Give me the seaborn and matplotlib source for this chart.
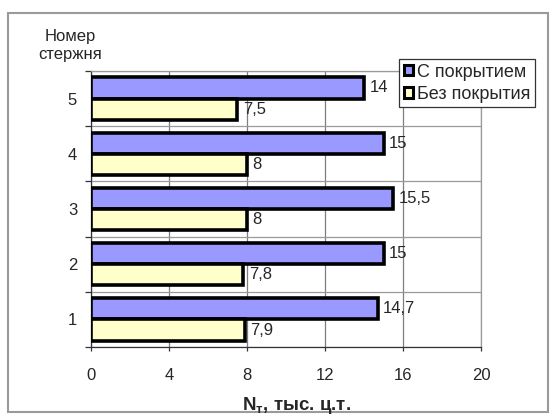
import matplotlib
matplotlib.use("Agg")
import matplotlib.pyplot as plt
from matplotlib.patches import Rectangle
import seaborn as sns
import pandas as pd

rods = ["5", "4", "3", "2", "1"]
coated = [14, 15, 15.5, 15, 14.7]
uncoated = [7.5, 8, 8, 7.8, 7.9]
series_names = ["С покрытием", "Без покрытия"]
x_ticks = [0, 4, 8, 12, 16, 20]

df = pd.DataFrame({
    "rod": rods * 2,
    "value": coated + uncoated,
    "series": [series_names[0]] * len(rods) + [series_names[1]] * len(rods),
})

sns.set_theme(style="white")
plt.rcParams["font.family"] = ["Liberation Sans", "DejaVu Sans"]
FS = 12

fig = plt.figure(figsize=(5.56, 4.17), dpi=100)
ax = fig.add_axes([91 / 556, 1 - 347 / 417, 390 / 556, 276 / 417])

palette = {series_names[0]: "#9999FF", series_names[1]: "#FFFFCC"}
sns.barplot(data=df, y="rod", x="value", hue="series", order=rods,
            hue_order=series_names, palette=palette, orient="h",
            width=0.77, edgecolor="black", linewidth=2.6, saturation=1,
            ax=ax, zorder=3)

ax.set_xlim(0, 20)
ax.set_ylim(4.5, -0.5)
ax.set_xticks(x_ticks)
ax.set_xticklabels([str(t) for t in x_ticks], fontsize=FS)
ax.set_yticks(range(len(rods)))
ax.set_yticklabels(rods, fontsize=FS)
ax.set_yticks([i + 0.5 for i in range(-1, len(rods))], minor=True)
ax.tick_params(axis="y", which="major", length=0, pad=10)
ax.tick_params(axis="y", which="minor", length=4, width=0.9, color="#333333",
               direction="out", left=True)
ax.tick_params(axis="x", which="major", length=3, width=0.9, color="#333333",
               direction="out", bottom=True, pad=12)

ax.grid(True, axis="x", which="major", color="#7f7f7f", linewidth=0.9, zorder=0)
ax.grid(True, axis="y", which="minor", color="#9a9a9a", linewidth=0.9, zorder=0)
ax.set_axisbelow(True)

for side in ["top", "right"]:
    ax.spines[side].set_color("#9a9a9a")
    ax.spines[side].set_linewidth(0.9)
for side in ["left", "bottom"]:
    ax.spines[side].set_color("#333333")
    ax.spines[side].set_linewidth(0.9)

for container in ax.containers:
    labels = [f"{v:g}".replace(".", ",") for v in container.datavalues]
    ax.bar_label(container, labels=labels, padding=4, fontsize=FS)

ax.set_xlabel("")
ax.set_ylabel("")
fig.text(297 / 556, 1 - 405 / 417, r"N$_{\mathregular{т}}$, тыс. ц.т.",
         ha="center", va="center", fontsize=13.5, fontweight="bold")
fig.text(70 / 556, 1 - 45 / 417, "Номер\nстержня", ha="center", va="center",
         fontsize=FS, linespacing=1.25)

leg = ax.legend(loc="upper left", bbox_to_anchor=(399 / 556, 1 - 59 / 417),
                bbox_transform=fig.transFigure, fontsize=13, frameon=True,
                fancybox=False, edgecolor="#333333", framealpha=1,
                handlelength=0.5, handleheight=0.5, handletextpad=0.25,
                borderpad=0.25, labelspacing=0.3, borderaxespad=0)
leg.get_frame().set_linewidth(0.9)
for h in leg.legend_handles:
    h.set_linewidth(2.2)

fig.patches.append(Rectangle((8 / 556, 1 - 412 / 417), 540 / 556, 399 / 417,
                             transform=fig.transFigure, fill=False,
                             edgecolor="#9a9a9a", linewidth=1.5))

fig.savefig("out.png", dpi=100)
